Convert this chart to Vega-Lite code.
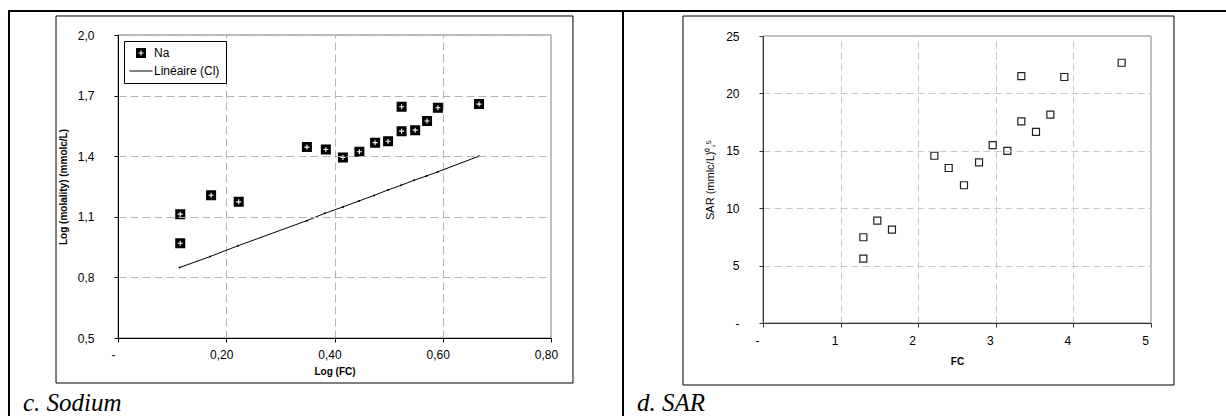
{
  "$schema": "https://vega.github.io/schema/vega-lite/v6.json",
  "width": 1226,
  "height": 416,
  "autosize": {"type": "none"},
  "padding": 0,
  "background": "white",
  "config": {
    "font": "Liberation Sans",
    "view": {"stroke": null},
    "axis": {"labelFlush": false, "labelOverlap": false, "labelColor": "black", "titleColor": "black"}
  },
  "datasets": {
    "na": [
      {"logfc": 0.115, "val": 1.113, "series": "Na"},
      {"logfc": 0.115, "val": 0.969, "series": "Na"},
      {"logfc": 0.172, "val": 1.207, "series": "Na"},
      {"logfc": 0.223, "val": 1.174, "series": "Na"},
      {"logfc": 0.349, "val": 1.445, "series": "Na"},
      {"logfc": 0.384, "val": 1.433, "series": "Na"},
      {"logfc": 0.4155, "val": 1.394, "series": "Na"},
      {"logfc": 0.446, "val": 1.422, "series": "Na"},
      {"logfc": 0.475, "val": 1.467, "series": "Na"},
      {"logfc": 0.499, "val": 1.474, "series": "Na"},
      {"logfc": 0.524, "val": 1.645, "series": "Na"},
      {"logfc": 0.524, "val": 1.524, "series": "Na"},
      {"logfc": 0.549, "val": 1.529, "series": "Na"},
      {"logfc": 0.571, "val": 1.574, "series": "Na"},
      {"logfc": 0.591, "val": 1.640, "series": "Na"},
      {"logfc": 0.667, "val": 1.658, "series": "Na"}
    ],
    "cl": [
      {"logfc": 0.114, "val": 0.849},
      {"logfc": 0.170, "val": 0.903},
      {"logfc": 0.222, "val": 0.957},
      {"logfc": 0.349, "val": 1.081},
      {"logfc": 0.382, "val": 1.117},
      {"logfc": 0.4155, "val": 1.149},
      {"logfc": 0.445, "val": 1.178},
      {"logfc": 0.473, "val": 1.206},
      {"logfc": 0.499, "val": 1.233},
      {"logfc": 0.523, "val": 1.256},
      {"logfc": 0.547, "val": 1.281},
      {"logfc": 0.570, "val": 1.302},
      {"logfc": 0.591, "val": 1.323},
      {"logfc": 0.667, "val": 1.400}
    ],
    "sar": [
      {"fc": 1.293, "sar": 7.47},
      {"fc": 1.293, "sar": 5.60},
      {"fc": 1.473, "sar": 8.91},
      {"fc": 1.662, "sar": 8.13},
      {"fc": 2.208, "sar": 14.57},
      {"fc": 2.393, "sar": 13.50},
      {"fc": 2.590, "sar": 12.00},
      {"fc": 2.784, "sar": 14.00},
      {"fc": 2.960, "sar": 15.50},
      {"fc": 3.149, "sar": 15.00},
      {"fc": 3.329, "sar": 21.50},
      {"fc": 3.329, "sar": 17.57},
      {"fc": 3.518, "sar": 16.64},
      {"fc": 3.703, "sar": 18.15},
      {"fc": 3.883, "sar": 21.43},
      {"fc": 4.622, "sar": 22.67}
    ]
  },
  "layer": [
    {
      "resolve": {"axis": {"x": "independent", "y": "independent"}},
      "layer": [
        {
          "data": {"values": [{}]},
          "mark": {"type": "rule", "stroke": "black", "strokeWidth": 2},
          "encoding": {
            "x": {"datum": -0.2014, "type": "quantitative", "scale": {"domain": [0, 0.8], "range": [118, 551], "nice": false, "zero": false}, "axis": null},
            "y": {"datum": 2.1188, "type": "quantitative", "scale": {"domain": [0.5, 2.0], "range": [338, 35], "nice": false, "zero": false}, "axis": null},
            "y2": {"datum": 0.1}
          }
        },
        {
          "data": {"values": [{}]},
          "mark": {"type": "rule", "stroke": "black", "strokeWidth": 2},
          "encoding": {
            "x": {"datum": 0.9330, "type": "quantitative", "scale": {"domain": [0, 0.8], "range": [118, 551], "nice": false, "zero": false}, "axis": null},
            "y": {"datum": 2.1188, "type": "quantitative", "scale": {"domain": [0.5, 2.0], "range": [338, 35], "nice": false, "zero": false}, "axis": null},
            "y2": {"datum": 0.1}
          }
        },
        {
          "data": {"values": [{}]},
          "mark": {"type": "rule", "stroke": "black", "strokeWidth": 2},
          "encoding": {
            "x": {"datum": -0.2032, "type": "quantitative", "scale": {"domain": [0, 0.8], "range": [118, 551], "nice": false, "zero": false}, "axis": null},
            "x2": {"datum": 2.06},
            "y": {"datum": 2.1188, "type": "quantitative", "scale": {"domain": [0.5, 2.0], "range": [338, 35], "nice": false, "zero": false}, "axis": null}
          }
        },
        {
          "data": {"values": [{}]},
          "mark": {"type": "rect", "fillOpacity": 0, "stroke": "black", "strokeWidth": 1},
          "encoding": {
            "x": {"datum": -0.1145, "type": "quantitative", "scale": {"domain": [0, 0.8], "range": [118, 551], "nice": false, "zero": false}, "axis": null},
            "x2": {"datum": 0.8406},
            "y": {"datum": 0.2772, "type": "quantitative", "scale": {"domain": [0.5, 2.0], "range": [338, 35], "nice": false, "zero": false}, "axis": null},
            "y2": {"datum": 2.0941}
          }
        },
        {
          "data": {"values": [{}]},
          "mark": {"type": "text", "text": "c. Sodium", "font": "Liberation Serif", "fontStyle": "italic", "fontSize": 25, "align": "left", "baseline": "alphabetic", "color": "black"},
          "encoding": {
            "x": {"datum": -0.1755, "type": "quantitative", "scale": {"domain": [0, 0.8], "range": [118, 551], "nice": false, "zero": false}, "axis": null},
            "y": {"datum": 0.1386, "type": "quantitative", "scale": {"domain": [0.5, 2.0], "range": [338, 35], "nice": false, "zero": false}, "axis": null}
          }
        },
        {
          "data": {"values": [{}]},
          "mark": {"type": "rect", "fillOpacity": 0, "stroke": "#808080", "strokeWidth": 1},
          "encoding": {
            "x": {"datum": 0, "type": "quantitative", "scale": {"domain": [0, 0.8], "range": [118, 551], "nice": false, "zero": false},
              "axis": {"orient": "top", "values": [0.2, 0.4, 0.6], "grid": true, "gridColor": "#b4b4b4", "gridDash": [8, 4], "gridWidth": 1, "labels": false, "ticks": false, "domain": false, "title": null}},
            "x2": {"datum": 0.8},
            "y": {"datum": 0.5, "type": "quantitative", "scale": {"domain": [0.5, 2.0], "range": [338, 35], "nice": false, "zero": false}, "axis": null},
            "y2": {"datum": 2.0}
          }
        },
        {
          "data": {"name": "cl"},
          "mark": {"type": "line", "color": "black", "strokeWidth": 1, "point": {"filled": true, "size": 4, "color": "black"}},
          "encoding": {
            "x": {"field": "logfc", "type": "quantitative", "scale": {"domain": [0, 0.8], "range": [118, 551], "nice": false, "zero": false}, "axis": null},
            "y": {"field": "val", "type": "quantitative", "scale": {"domain": [0.5, 2.0], "range": [338, 35], "nice": false, "zero": false}, "axis": null}
          }
        },
        {
          "data": {"name": "na"},
          "mark": {"type": "point", "filled": true, "color": "black", "opacity": 1, "size": 100},
          "encoding": {
            "x": {"field": "logfc", "type": "quantitative", "scale": {"domain": [0, 0.8], "range": [118, 551], "nice": false, "zero": false},
              "axis": {"orient": "bottom", "offset": -78, "values": [0, 0.2, 0.4, 0.6, 0.8], "grid": false,
                "labelExpr": "datum.value == 0 ? '-' : replace(format(datum.value, '.2f'), '.', ',')", "labelFontSize": 12, "labelPadding": 7, "labelOffset": -5,
                "tickSize": 4, "tickColor": "black", "domainColor": "black",
                "title": "Log (FC)", "titleFontSize": 10, "titleFontWeight": "bold", "titlePadding": 6, "zindex": 2}},
            "y": {"field": "val", "type": "quantitative", "scale": {"domain": [0.5, 2.0], "range": [338, 35], "nice": false, "zero": false},
              "axis": {"orient": "left", "offset": -118, "values": [0.5, 0.8, 1.1, 1.4, 1.7, 2.0], "grid": true, "gridColor": "#b4b4b4", "gridDash": [8, 4], "gridWidth": 1,
                "labelExpr": "replace(format(datum.value, '.1f'), '.', ',')", "labelFontSize": 12, "labelPadding": 20, "tickSize": 4, "tickColor": "black", "domainColor": "black",
                "title": "Log (molality) (mmolc/L)", "titleFontSize": 10, "titleFontWeight": "bold", "titlePadding": 9, "zindex": 2}},
            "shape": {"field": "series", "type": "nominal",
              "scale": {"domain": ["Na", "Linéaire (Cl)"], "range": ["M-1,-1H1V1H-1Z M-0.11,-0.5V-0.11H-0.5V0.11H-0.11V0.5H0.11V0.11H0.5V-0.11H0.11V-0.5Z", "M-2.3,-0.1H2.3V0.1H-2.3Z"]},
              "legend": {"orient": "none", "legendX": 124, "legendY": 41, "title": null, "fillColor": "white", "strokeColor": "black", "padding": 6,
                "labelFont": "Liberation Sans", "labelFontSize": 12, "labelColor": "black", "labelOffset": 7, "symbolOffset": 5, "symbolSize": 100, "rowPadding": 4,
                "symbolOpacity": 1}}
          }
        }
      ]
    },
    {
      "resolve": {"axis": {"x": "independent", "y": "independent"}},
      "layer": [
        {
          "data": {"values": [{}]},
          "mark": {"type": "rect", "fillOpacity": 0, "stroke": "black", "strokeWidth": 1},
          "encoding": {
            "x": {"datum": -1.031, "type": "quantitative", "scale": {"domain": [0, 5], "range": [763, 1151], "nice": false, "zero": false}, "axis": null},
            "x2": {"datum": 5.296},
            "y": {"datum": -5.40, "type": "quantitative", "scale": {"domain": [0, 25], "range": [323, 36], "nice": false, "zero": false}, "axis": null},
            "y2": {"datum": 26.74}
          }
        },
        {
          "data": {"values": [{}]},
          "mark": {"type": "text", "text": "d. SAR", "font": "Liberation Serif", "fontStyle": "italic", "fontSize": 25, "align": "left", "baseline": "alphabetic", "color": "black"},
          "encoding": {
            "x": {"datum": -1.624, "type": "quantitative", "scale": {"domain": [0, 5], "range": [763, 1151], "nice": false, "zero": false}, "axis": null},
            "y": {"datum": -7.66, "type": "quantitative", "scale": {"domain": [0, 25], "range": [323, 36], "nice": false, "zero": false}, "axis": null}
          }
        },
        {
          "data": {"values": [{}]},
          "mark": {"type": "rect", "fillOpacity": 0, "stroke": "#808080", "strokeWidth": 1},
          "encoding": {
            "x": {"datum": 0, "type": "quantitative", "scale": {"domain": [0, 5], "range": [763, 1151], "nice": false, "zero": false},
              "axis": {"orient": "top", "values": [1, 2, 3, 4], "grid": true, "gridColor": "#c8c8c8", "gridDash": [7, 4], "gridWidth": 1, "labels": false, "ticks": false, "domain": false, "title": null}},
            "x2": {"datum": 5},
            "y": {"datum": 0, "type": "quantitative", "scale": {"domain": [0, 25], "range": [323, 36], "nice": false, "zero": false}, "axis": null},
            "y2": {"datum": 25}
          }
        },
        {
          "data": {"name": "sar"},
          "mark": {"type": "point", "shape": "square", "filled": false, "size": 49, "color": "#222", "strokeWidth": 1.2, "opacity": 1},
          "encoding": {
            "x": {"field": "fc", "type": "quantitative", "scale": {"domain": [0, 5], "range": [763, 1151], "nice": false, "zero": false},
              "axis": {"orient": "bottom", "offset": -93, "values": [0, 1, 2, 3, 4, 5], "grid": false,
                "labelExpr": "datum.value == 0 ? '-' : format(datum.value, 'd')", "labelFontSize": 12, "labelPadding": 8, "labelOffset": -6,
                "tickSize": 4, "tickColor": "#333", "domainColor": "#333",
                "title": "FC", "titleFontSize": 10, "titleFontWeight": "bold", "titlePadding": 10, "zindex": 2}},
            "y": {"field": "sar", "type": "quantitative", "scale": {"domain": [0, 25], "range": [323, 36], "nice": false, "zero": false},
              "axis": {"orient": "left", "offset": -763, "values": [0, 5, 10, 15, 20, 25], "grid": true, "gridColor": "#c8c8c8", "gridDash": [7, 4], "gridWidth": 1,
                "labelExpr": "datum.value == 0 ? '-' : format(datum.value, 'd')", "labelFontSize": 12, "labelPadding": 20, "tickSize": 4, "tickColor": "#333", "domainColor": "#333",
                "title": "SAR (mmlc/L)⁰,⁵", "titleFontSize": 11, "titleFontWeight": "normal", "titlePadding": 10, "zindex": 2}}
          }
        }
      ]
    }
  ],
  "resolve": {"scale": {"x": "independent", "y": "independent"}}
}
